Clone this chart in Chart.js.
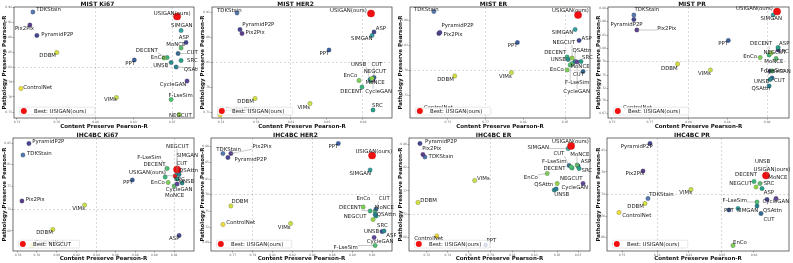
<!DOCTYPE html>
<html><head><meta charset="utf-8">
<script src="https://cdn.jsdelivr.net/npm/chart.js@4.4.1/dist/chart.umd.min.js"></script>
<style>
html,body{margin:0;padding:0;background:#fff;width:793px;height:263px;overflow:hidden;}
.p{position:absolute;}
</style></head><body>
<div id="wrap"></div>
<script>
// ---------------- DATA ----------------
const METHODS = ["TDKStain","USIGAN(ours)","Pix2Pix","PyramidP2P","SIMGAN","ASP","MoNCE","DDBM","DECENT","CUT",
  "EnCo","SRC","PPT","UNSB","QSAttn","CycleGAN","ControlNet","VIMs","F-LseSim","NEGCUT"];

const titles = ["MIST Ki67","MIST HER2","MIST ER","MIST PR","IHC4BC Ki67","IHC4BC HER2","IHC4BC ER","IHC4BC PR"];
const bestMethods = ["USIGAN(ours)","USIGAN(ours)","USIGAN(ours)","USIGAN(ours)","NEGCUT","USIGAN(ours)","USIGAN(ours)","USIGAN(ours)"];

const mistKi67X = [0.733,0.878,0.730,0.737,0.882,0.887,0.882,0.757,0.868,0.879,0.865,0.882,0.835,0.872,0.877,0.888,0.721,0.817,0.872,0.880];
const mistKi67Y = [0.926,0.917,0.900,0.879,0.889,0.865,0.854,0.845,0.835,0.843,0.834,0.829,0.830,0.825,0.816,0.788,0.773,0.755,0.751,0.721];
const mistHer2X = [0.760,0.894,0.765,0.763,0.895,0.897,0.894,0.778,0.885,0.897,0.882,0.896,0.852,0.893,null,0.896,0.743,0.833,null,0.895];
const mistHer2Y = [0.906,0.905,0.865,0.873,0.861,0.868,0.770,0.735,0.758,0.777,0.771,0.712,0.832,0.773,null,0.772,0.702,0.725,null,0.775];
const mistErX   = [0.718,0.863,0.723,0.724,0.860,0.864,0.857,0.739,0.852,0.868,0.852,0.866,0.802,0.853,0.860,0.862,0.706,0.796,0.855,0.857];
const mistErY   = [0.897,0.890,0.853,0.855,0.861,0.839,0.793,0.768,0.806,0.777,0.780,0.797,0.835,0.801,0.797,0.796,0.700,0.775,0.790,0.804];
const mistPrX   = [0.749,0.893,0.752,0.749,0.889,0.894,0.892,0.793,0.885,0.888,0.876,0.894,0.844,0.886,0.885,0.886,0.732,0.826,0.888,0.887];
const mistPrY   = [0.870,0.877,0.840,0.861,0.870,0.800,0.783,0.772,0.790,0.744,0.785,0.805,0.819,0.741,0.728,0.758,0.676,0.760,0.758,0.794];
const ihcKi67X  = [0.763,0.916,0.762,0.769,0.918,0.920,0.915,0.793,0.906,0.920,0.909,0.918,0.873,0.923,0.920,0.918,0.772,0.825,0.908,0.918];
const ihcKi67Y  = [0.832,0.790,0.740,0.855,0.796,0.671,0.770,0.683,0.788,0.800,0.777,0.784,0.782,0.776,0.793,0.774,0.651,0.732,0.805,0.803];
const ihcHer2X  = [0.755,0.905,0.763,0.760,0.903,0.915,0.908,0.763,0.903,0.909,0.896,0.909,0.871,0.917,0.908,0.907,0.755,0.823,0.908,0.906];
const ihcHer2Y  = [0.865,0.861,0.865,0.857,0.832,0.709,0.750,0.760,0.750,0.754,0.758,0.740,0.885,0.710,0.743,0.697,0.723,0.725,0.681,0.733];
const ihcErX    = [0.719,0.866,0.717,0.714,0.863,0.873,0.872,0.712,0.867,0.864,0.842,0.874,0.780,0.849,0.851,0.878,0.731,0.769,0.866,0.852];
const ihcErY    = [0.838,0.860,0.843,0.865,0.855,0.820,0.822,0.747,0.816,0.821,0.805,0.815,0.662,0.772,0.774,0.785,0.680,0.791,0.818,0.785];
const ihcPrX    = [0.774,0.892,0.769,0.776,0.864,0.893,0.886,0.771,0.880,0.887,0.859,0.888,0.855,0.893,0.883,0.902,0.745,0.817,0.883,0.882];
const ihcPrY    = [0.735,0.781,0.790,0.845,0.715,0.733,0.765,0.725,0.769,0.705,0.641,0.755,0.712,0.782,0.720,0.735,0.707,0.753,0.728,0.758];

// axis ranges [xmin,xmax,ymin,ymax]
const axisRanges = [
  [0.714,0.895,0.714,0.936],[0.735,0.915,0.696,0.918],[0.694,0.875,0.684,0.906],[0.723,0.905,0.664,0.886],
  [0.753,0.935,0.640,0.866],[0.743,0.925,0.670,0.896],[0.703,0.885,0.650,0.876],[0.733,0.915,0.630,0.856]];
// tick values
const xTickVals = [
  [0.717,0.757,0.796,0.834,0.873],[0.744,0.779,0.814,0.850,0.886],[0.732,0.770,0.808,0.850],[0.727,0.765,0.804,0.843,0.883],
  [0.758,0.777,0.797,0.817,0.837,0.856,0.876,0.895,0.915],[0.765,0.785,0.805,0.825,0.845,0.865,0.885,0.905],
  [0.721,0.742,0.763,0.785,0.807,0.829,0.852,0.873],[0.748,0.783,0.815,0.848,0.880]];
const yTickVals = [
  [0.936,0.906,0.876,0.846,0.816,0.786,0.756,0.726],[0.907,0.857,0.807,0.757,0.707],[0.880,0.830,0.780,0.730],
  [0.883,0.857,0.830,0.803,0.777,0.750,0.723,0.700,0.673],[0.855,0.813,0.769,0.723,0.680],
  [0.880,0.847,0.813,0.783,0.750,0.717,0.687],[0.863,0.817,0.770,0.723,0.677],[0.831,0.788,0.743,0.700,0.657]];

// ---------------- STYLE / LAYOUT ----------------
const COLORS = {"TDKStain":"#5479ad","USIGAN(ours)":"#f01010","Pix2Pix":"#5b3d8a","PyramidP2P":"#46468e","SIMGAN":"#35a0a0",
  "ASP":"#43478c","MoNCE":"#5cbc6a","DDBM":"#d4de3c","DECENT":"#3ab77a","CUT":"#33688e","EnCo":"#7ecf58","SRC":"#25a084",
  "PPT":"#3d62a0","UNSB":"#2b8c8c","QSAttn":"#27808e","CycleGAN":"#5f4596","ControlNet":"#f0df3a","VIMs":"#c6e04b",
  "F-LseSim":"#4cc26e","NEGCUT":"#93d446"};
const gridIdx = [ // [x indices, y indices] of ticks that get a dashed grid line
  [[2,4],[4]],[[2,4],[2]],[[1,3],[2]],[[2,4],[4]],[[4,8],[3]],[[1,4],[3]],[[3],[3]],[[1,3],[2]]];
// label offsets (px) relative to each point, in METHODS order
const LABEL_OFF = [
 [[3.4,-2],[-23.3,-3.4],[-15,3.3],[4.4,-1.4],[-10,-5],[-7.3,-5],[-14.7,-3.7],[-17.4,3.4],[-31.3,-7.3],[8.7,-0.6],[-13.3,-0.3],[6,0],[-9,3.3],[-18,3.4],[7.6,3],[-27.3,3.3],[2.3,-1],[-12.4,1.6],[-2.7,-3.6],[-10,0.7]],
 [[-20,-2.7],[-41,-3.3],[3.6,-0.6],[2.3,-5],[-21,3.4],[1.7,-3.3],[-5.4,1.7],[-17.7,2.7],[-21.7,4.7],[-2.6,-13.4],[-15.6,-5.3],[-1,-4.7],[-9.6,3.3],[-19,-15],null,[-7.7,11.7],[5.6,-5],[-12.6,3.7],null,[-8.3,-6.7]],
 [[-20,-2.4],[-26,-4.3],[4.6,0.7],[1.7,-7.3],[-23.3,3.4],[2.4,-2.4],[-1.7,3.4],[-17.6,4],[-23,-4.7],[-10,3.3],[-17.3,-0.7],[1,-4.4],[-9.6,3.3],[-17.3,0],[-2.7,-11],[-13.7,29.7],[2,-2],[-12.4,4],[-5,17.7],[-19.7,-15.7]],
 [[0.7,-5],[-41,-3.4],[20.4,-1],[-23.3,4.7],[-12.6,3.3],[1,-6.7],[-11.7,3],[-16.6,4.3],[-19,-11.7],[2,3],[-17,-0.6],[0,4.4],[-10,2.6],[-16,1.7],[-17.7,2.3],[-6,0.5],[6,-4],[-12.4,4],[-11.6,0],[-7.7,-0.7]],
 [[4,-1.7],[-46,-3.3],[3.7,-1],[3.4,-2],[-0.7,-17.3],[-10,3],[-9,10],[-16.6,3.4],[-21.7,-12.7],[-2.7,-7.7],[-17.3,0],[-3,0.3],[-9.3,2.7],[-3,-1.3],[0,-4],[-11.3,5.3],[3,-3],[-12.3,3.7],[-30,-11.3],[-11,-23.3]],
 [[-6.7,-4.4],[-16.7,-4.3],[21.7,-7],[6.7,1.6],[-20.6,3.7],[4.3,3.8],[-0.3,-3.3],[0.6,-4],[-31,-3.3],[2.7,-10.3],[-6.7,-8.3],[1,9.3],[-9.7,2.7],[-20,0.7],[1.7,0],[-7.3,4.3],[3.3,-1.6],[-12.7,4.4],[-41.6,2.4],[-29.3,-3.3]],
 [[3.7,0],[-19,-4.3],[-0.7,-6],[5,-2.3],[-40.6,-0.6],[2.7,-4],[-6.7,-10.7],[2.3,-1.7],[-28.7,0.7],[-15.7,-12],[-23.4,4],[2.4,1.6],[1,-4],[0,4.3],[-22,-4],[-21.6,3.7],[-22.7,3],[2.4,-1.6],[-29,-5.3],[2.7,-4.6]],
 [[1,-4],[-12.4,-6],[-17.6,2.7],[-29.3,2.7],[-1.3,2],[-3.3,-6.6],[8.3,-5.6],[-17.7,3.3],[-19,-7.4],[2.6,5.6],[0,-3.3],[1.7,-5],[-5,0.3],[-12,-13],[6,5],[-13.4,3.3],[3.3,3.3],[-11.7,2.7],[-34.4,-1],[-26.7,-3.7]]
];

const seriesX = [mistKi67X,mistHer2X,mistErX,mistPrX,ihcKi67X,ihcHer2X,ihcErX,ihcPrX];
const seriesY = [mistKi67Y,mistHer2Y,mistErY,mistPrY,ihcKi67Y,ihcHer2Y,ihcErY,ihcPrY];

Chart.defaults.font.family = '"DejaVu Sans", sans-serif';
const LBL_FONT = '5.4px "DejaVu Sans"';

function makePlugin(pi){
  return {
    id:'lbl'+pi,
    afterDatasetsDraw(chart){
      const ctx = chart.ctx; ctx.save();
      ctx.font = LBL_FONT; ctx.textBaseline='middle'; ctx.textAlign='left';
      const meta = chart.getDatasetMeta(0);
      const ds = chart.data.datasets[0].data;
      meta.data.forEach((el,k)=>{
        const d = ds[k]; const off = LABEL_OFF[pi][d.i]; if(!off) return;
        const tx = el.x+off[0], ty = el.y+off[1];
        const w = ctx.measureText(d.m).width;
        const nx = Math.min(Math.max(el.x,tx),tx+w), ny = Math.min(Math.max(el.y,ty-2.6),ty+2.6);
        if (Math.hypot(nx-el.x, ny-el.y) > 7){
          ctx.strokeStyle='#888'; ctx.lineWidth=0.45;
          ctx.beginPath(); ctx.moveTo(el.x,el.y); ctx.lineTo(nx,ny); ctx.stroke();
        }
        ctx.fillStyle='#222'; ctx.fillText(d.m, tx, ty);
      });
      ctx.restore();
    },
    afterDraw(chart){
      const ctx = chart.ctx, a = chart.chartArea; ctx.save();
      ctx.strokeStyle='#333'; ctx.lineWidth=0.7;
      ctx.strokeRect(a.left, a.top, a.right-a.left, a.bottom-a.top);
      // legend
      const txt = 'Best: '+bestMethods[pi];
      ctx.font = LBL_FONT;
      const w = ctx.measureText(txt).width;
      const bx = a.left+5.5, by = a.bottom-10.8, bw = w+23, bh = 7.8;
      ctx.fillStyle='rgba(255,255,255,0.8)'; ctx.strokeStyle='#cfcfcf'; ctx.lineWidth=0.5;
      ctx.beginPath(); ctx.roundRect(bx,by,bw,bh,1.5); ctx.fill(); ctx.stroke();
      ctx.fillStyle=COLORS["USIGAN(ours)"];
      ctx.beginPath(); ctx.arc(bx+4.3, by+bh/2, 3, 0, Math.PI*2); ctx.fill();
      ctx.fillStyle='#222'; ctx.textBaseline='middle'; ctx.textAlign='left';
      ctx.fillText(txt, bx+14.5, by+bh/2+0.2);
      ctx.restore();
    }
  };
}

const wrap = document.getElementById('wrap');
for (let pi=0; pi<8; pi++){
  const col = pi%4, row = Math.floor(pi/4);
  const W = col===3 ? 199 : 198, H = row===0 ? 131 : 132;
  const div = document.createElement('div'); div.className='p';
  div.style.left = (col*198)+'px'; div.style.top = (row*131)+'px';
  div.style.width = W+'px'; div.style.height = H+'px';
  const cv = document.createElement('canvas'); cv.width=W; cv.height=H;
  cv.style.width=W+'px'; cv.style.height=H+'px';
  div.appendChild(cv); wrap.appendChild(div);

  const best = bestMethods[pi];
  const pts = [];
  METHODS.forEach((m,i)=>{ if(seriesX[pi][i]!==null) pts.push({x:seriesX[pi][i], y:seriesY[pi][i], m, i}); });
  pts.sort((a,b)=>(a.m===best)-(b.m===best));
  const r = axisRanges[pi];
  const xt = xTickVals[pi], yt = yTickVals[pi];
  const [xg, yg] = gridIdx[pi];
  const yW = row===0 ? 14 : 13, xH = H - (row===0 ? 118 : 120);

  new Chart(cv, {
    type:'scatter',
    data:{datasets:[{
      data: pts,
      backgroundColor: pts.map(p=> p.m===best ? COLORS["USIGAN(ours)"] : COLORS[p.m]),
      borderColor: pts.map(p=> p.m===best ? '#c00000' : 'rgba(40,40,60,0.55)'),
      borderWidth: 0.4,
      pointRadius: pts.map(p=> p.m===best ? 3.6 : 2.2),
      pointHoverRadius: pts.map(p=> p.m===best ? 3.6 : 2.2)
    }]},
    options:{
      responsive:false, animation:false, devicePixelRatio:1,
      events:[],
      layout:{padding:{left:0,right:3,top:0,bottom:0}},
      plugins:{
        legend:{display:false}, tooltip:{enabled:false},
        title:{display:true, text:titles[pi], color:'#111', font:{size:6, weight:'bold', lineHeight:1}, padding:{top:1,bottom:0}}
      },
      scales:{
        x:{type:'linear', min:r[0], max:r[1],
          afterBuildTicks: s=>{ s.ticks = xt.map(v=>({value:v})); },
          afterFit: s=>{ s.height = xH; s.paddingLeft=0; s.paddingRight=0; },
          ticks:{font:{size:3}, color:'#666', padding:0.5, maxRotation:0, autoSkip:false, callback:v=>Number(v).toFixed(2)},
          grid:{color:c=> xg.includes(c.index) ? 'rgba(0,0,0,0.3)' : 'rgba(0,0,0,0)', lineWidth:0.5, tickColor:'#555', tickLength:1.5, tickWidth:0.5},
          border:{display:false, dash:[2,2]},
          title:{display:true, text:'Content Preserve Pearson-R', color:'#111', font:{size:5.5, weight:'bold'}, padding:{top:0,bottom:1.2}}
        },
        y:{type:'linear', min:r[2], max:r[3],
          afterBuildTicks: s=>{ s.ticks = yt.map(v=>({value:v})); },
          afterFit: s=>{ s.width = yW; s.paddingTop=0; s.paddingBottom=0; },
          ticks:{font:{size:3}, color:'#666', padding:0.5, autoSkip:false, callback:v=>Number(v).toFixed(2)},
          grid:{color:c=> yg.includes(c.index) ? 'rgba(0,0,0,0.3)' : 'rgba(0,0,0,0)', lineWidth:0.5, tickColor:'#555', tickLength:1.5, tickWidth:0.5},
          border:{display:false, dash:[2,2]},
          title:{display:true, text:'Pathology Preserve Pearson-R', color:'#111', font:{size:5.5, weight:'bold'}, padding:{top:1.7,bottom:0}}
        }
      }
    },
    plugins:[makePlugin(pi)]
  });
}
</script>
</body></html>
